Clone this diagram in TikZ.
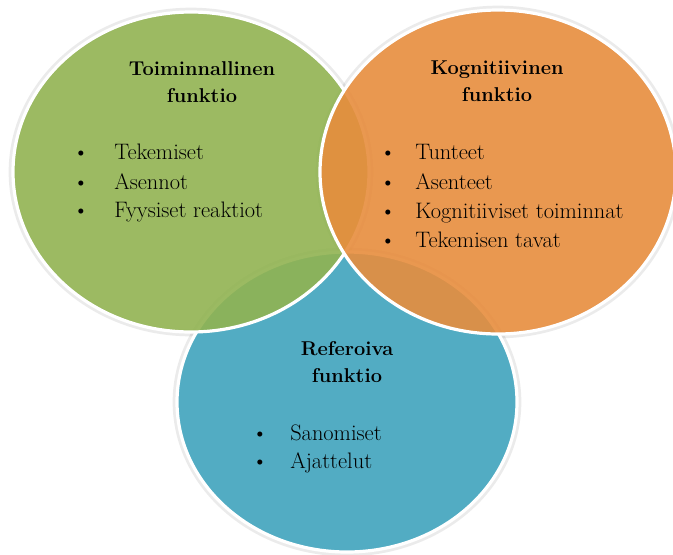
\documentclass[tikz,border=0pt]{standalone}
\usepackage{fontspec}
\usepackage{xcolor}
\definecolor{toimgreen}{RGB}{145,179,81}
\definecolor{kogorange}{RGB}{231,141,61}
\definecolor{refblue}{RGB}{82,172,195}
\tikzset{
	venn/.style={draw=white, line width=2.4pt, fill opacity=0.9},
	varjo/.style={draw=black, line width=5pt, opacity=0.08},
	otsikko/.style={font=\fontsize{15}{20.25}\selectfont\bfseries, align=center, anchor=north, inner sep=0pt},
	kohta/.style={font=\fontsize{16.8}{20}\selectfont, anchor=base west, inner sep=0pt},
	pallo/.style={font=\fontsize{16.8}{20}\selectfont, anchor=base, inner sep=0pt}
}

\begin{document}
\begin{tikzpicture}[x=0.75pt, y=-0.75pt]
		\useasboundingbox (0, 0) rectangle (673, 554);
		% shadows
		\draw[varjo] (347, 402) ellipse (171 and 151);
		\draw[varjo] (191, 172) ellipse (179 and 161);
		\draw[varjo] (498, 172) ellipse (179 and 163);
		% circles
		\draw[venn, fill=refblue, fill opacity=1] (347, 402) ellipse (170 and 150);
		\draw[venn, fill=toimgreen] (191, 172) ellipse (178 and 160);
		\draw[venn, fill=kogorange] (498, 172) ellipse (178 and 162);
		% titles
		\node[otsikko] (toim) at (202, 61) {Toiminnallinen\\funktio};
		\node[otsikko] (kog) at (497, 61) {Kognitiivinen\\funktio};
		\node[otsikko] (ref) at (347, 341) {Referoiva\\funktio};
		% green list
		\node[pallo] (b1) at (81, 159) {\textbullet};
		\node[kohta] (t1) at (114, 159) {Tekemiset};
		\node[pallo] (b2) at (81, 189) {\textbullet};
		\node[kohta] (t2) at (114, 189) {Asennot};
		\node[pallo] (b3) at (81, 217) {\textbullet};
		\node[kohta] (t3) at (114, 217) {Fyysiset reaktiot};
		% orange list
		\node[pallo] (k1) at (388, 159) {\textbullet};
		\node[kohta] (u1) at (415, 159) {Tunteet};
		\node[pallo] (k2) at (388, 189) {\textbullet};
		\node[kohta] (u2) at (415, 189) {Asenteet};
		\node[pallo] (k3) at (388, 218) {\textbullet};
		\node[kohta] (u3) at (415, 218) {Kognitiiviset toiminnat};
		\node[pallo] (k4) at (388, 247) {\textbullet};
		\node[kohta] (u4) at (415, 247) {Tekemisen tavat};
		% blue list
		\node[pallo] (r1) at (260, 440) {\textbullet};
		\node[kohta] (s1) at (290, 440) {Sanomiset};
		\node[pallo] (r2) at (260, 468) {\textbullet};
		\node[kohta] (s2) at (290, 468) {Ajattelut};
	\end{tikzpicture}
\end{document}
